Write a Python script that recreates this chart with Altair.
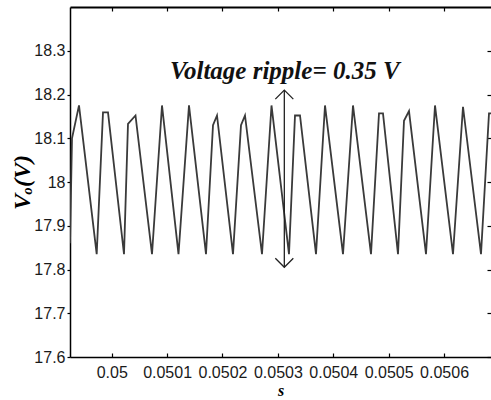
import altair as alt
import pandas as pd

# ---- data ----
time_s = [0.04992473, 0.04992834, 0.04994097, 0.04997292, 0.04998430, 0.04999332,
          0.05002220, 0.05002942, 0.05004296, 0.05007275, 0.05009080, 0.05012058,
          0.05013953, 0.05017022, 0.05018286, 0.05019008, 0.05021896, 0.05023340,
          0.05024062, 0.05027131, 0.05028846, 0.05032004, 0.05033088, 0.05033990,
          0.05036878, 0.05038503, 0.05041752, 0.05043557, 0.05046806, 0.05048250,
          0.05048972, 0.05051680, 0.05052763, 0.05053666, 0.05056734, 0.05058359,
          0.05061608, 0.05063413, 0.05066662, 0.05068106, 0.05068469]
voltage_v = [17.86, 18.10, 18.175, 17.835, 18.159, 18.159,
             17.835, 18.133, 18.152, 17.835, 18.175, 17.835,
             18.175, 17.835, 18.13, 18.152, 17.835, 18.13,
             18.152, 17.835, 18.175, 17.835, 18.152, 18.152,
             17.835, 18.175, 17.835, 18.175, 17.835, 18.157,
             18.157, 17.835, 18.14, 18.162, 17.835, 18.175,
             17.835, 18.172, 17.835, 18.157, 18.157]

x_ticks = [0.05, 0.0501, 0.0502, 0.0503, 0.0504, 0.0505, 0.0506]
y_ticks = [17.6, 17.7, 17.8, 17.9, 18.0, 18.1, 18.2, 18.3]
x_domain = [0.04992473, 0.05068468]
y_domain = [17.6, 18.4]

ripple_text = ["Voltage ripple= 0.35 V"]
ripple_t = [0.0503125]
ripple_v = [18.235]
arrow_t = [0.0503116]
arrow_top = [18.210]
arrow_bottom = [17.805]

# ---- tables ----
wave = pd.DataFrame({"t": time_s, "v": voltage_v, "i": list(range(len(time_s)))})
label_df = pd.DataFrame({"t": ripple_t, "v": ripple_v, "txt": ripple_text})
arrow_df = pd.DataFrame({"t": arrow_t, "top": arrow_top, "bottom": arrow_bottom})

W, H = 421, 350
xs = alt.Scale(domain=x_domain, nice=False, zero=False)
ys = alt.Scale(domain=y_domain, nice=False, zero=False)
LABEL_FONT = "Liberation Sans, Arial, sans-serif"
SERIF = "Liberation Serif, Times New Roman, serif"

line = alt.Chart(wave).mark_line(color="#3a3a3a", strokeWidth=1.8, clip=True).encode(
    x=alt.X("t:Q", scale=xs, axis=alt.Axis(
        orient="bottom", values=x_ticks, format=".4~f", ticks=False, grid=False,
        domainColor="black", domainWidth=1.5, labelFont=LABEL_FONT, labelFontSize=16,
        labelColor="#1a1a1a", labelPadding=7, labelOverlap=False, labelFlush=False,
        title="s", titleFont=SERIF, titleFontSize=16, titleFontStyle="italic",
        titleFontWeight="bold", titleColor="black", titleX=210.5, titleY=38,
        titleAlign="center", titleBaseline="alphabetic")),
    y=alt.Y("v:Q", scale=ys, axis=alt.Axis(
        orient="left", values=y_ticks, format=".3~g", tickSize=3, tickWidth=1.2,
        tickColor="black", grid=False, domainColor="black", domainWidth=1.5,
        labelFont=LABEL_FONT, labelFontSize=16, labelColor="#1a1a1a", labelPadding=2,
        title="Vₒ(V)", titleFont=SERIF, titleFontSize=24, titleFontStyle="italic",
        titleFontWeight="bold", titleColor="black", titleAngle=270, titleX=-48,
        titleY=175, titleAlign="center", titleBaseline="middle")),
    order="i:Q",
)

shaft = alt.Chart(arrow_df).mark_rule(color="#222222", strokeWidth=1.3).encode(
    x=alt.X("t:Q", scale=xs, axis=alt.Axis(
        orient="top", offset=-H, values=x_ticks, labels=False, domain=False,
        tickSize=4, tickWidth=1.2, tickColor="black", grid=False, title="")),
    y=alt.Y("top:Q", scale=ys, axis=alt.Axis(
        orient="left", offset=-W, values=y_ticks, labels=False, domain=False,
        tickSize=4, tickWidth=1.2, tickColor="black", grid=False, title="")),
    y2="bottom:Q",
)

label = alt.Chart(label_df).mark_text(
    font=SERIF, fontSize=25, fontStyle="italic", fontWeight="bold",
    align="center", baseline="alphabetic", color="#111111").encode(
    x=alt.X("t:Q", scale=xs, axis=alt.Axis(
        orient="bottom", offset=-H, values=x_ticks, labels=False, domain=True,
        domainColor="black", domainWidth=2, tickSize=4, tickWidth=1.2,
        tickColor="black", grid=False, title="")),
    y=alt.Y("v:Q", scale=ys, axis=None),
    text="txt:N",
)

head_top = alt.Chart(arrow_df).mark_point(
    shape="M-1,1L0,0L1,1", filled=False, size=324, strokeWidth=1.3,
    color="#222222", opacity=1).encode(
    x=alt.X("t:Q", scale=xs, axis=None),
    y=alt.Y("top:Q", scale=ys, axis=None),
)

head_bottom = alt.Chart(arrow_df).mark_point(
    shape="M-1,-1L0,0L1,-1", filled=False, size=324, strokeWidth=1.3,
    color="#222222", opacity=1).encode(
    x=alt.X("t:Q", scale=xs, axis=None),
    y=alt.Y("bottom:Q", scale=ys, axis=None),
)

chart = alt.layer(line, shaft, label, head_top, head_bottom).resolve_axis(
    x="independent", y="independent"
).properties(
    width=W, height=H,
    padding={"left": 70, "top": 7, "right": 0, "bottom": 43},
    autosize=alt.AutoSizeParams(type="none"),
    background="white",
).configure_view(stroke=None)

chart.save("out.html", embed_options={"renderer": "svg", "actions": False})
